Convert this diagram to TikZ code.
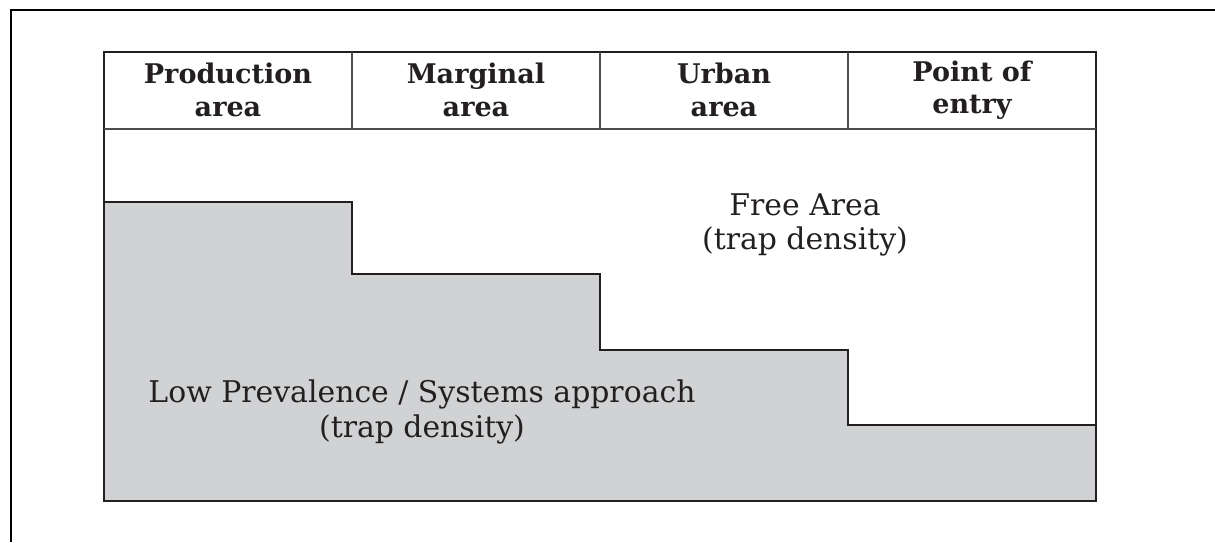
\documentclass[tikz,border=0pt]{standalone}
\usepackage{fontspec}
\setmainfont{DejaVu Serif}
\usetikzlibrary{positioning}
\definecolor{lowgray}{HTML}{D1D2D4}
\definecolor{ink}{HTML}{231F20}
\tikzset{
  header/.style={font=\bfseries\fontsize{15.4}{18.4}\selectfont, align=center, text=ink},
  areatext/.style={font=\fontsize{17}{19.5}\selectfont, align=center, text=ink},
}
\begin{document}
\begin{tikzpicture}[x=0.02cm,y=-0.02cm]
  \useasboundingbox (0,0) rectangle (1215,542);

  % outer frame (cut at right and bottom)
  \draw[line width=1.7pt] (11,542) -- (11,10) -- (1215,10);

  % low prevalence steps
  \fill[lowgray] (104,202) -- (352,202) -- (352,274) -- (600,274) -- (600,350)
    -- (848,350) -- (848,425) -- (1096,425) -- (1096,501) -- (104,501) -- cycle;
  \draw[ink,line width=0.8pt] (104,202) -| (352,274) -| (600,350) -| (848,425) -- (1096,425);

  % table frame
  \draw[ink,line width=1.1pt] (104,52) rectangle (1096,501);
  \draw[ink!80,line width=0.6pt] (104,129) -- (1096,129);
  \foreach \x in {352,600,848}
    \draw[ink!80,line width=0.6pt] (\x,52) -- (\x,129);

  \node[header] (prod) at (228,90) {Production\\area};
  \node[header] (marg) at (476,90) {Marginal\\area};
  \node[header] (urb)  at (724,90) {Urban\\area};
  \node[header] (poe)  at (972,90) {Point of\\entry};

  \node[areatext] (free) at (805,225) {Free Area\\(trap density)};
  \node[areatext] (low)  at (422,412) {Low Prevalence / Systems approach\\(trap density)};
\end{tikzpicture}
\end{document}
